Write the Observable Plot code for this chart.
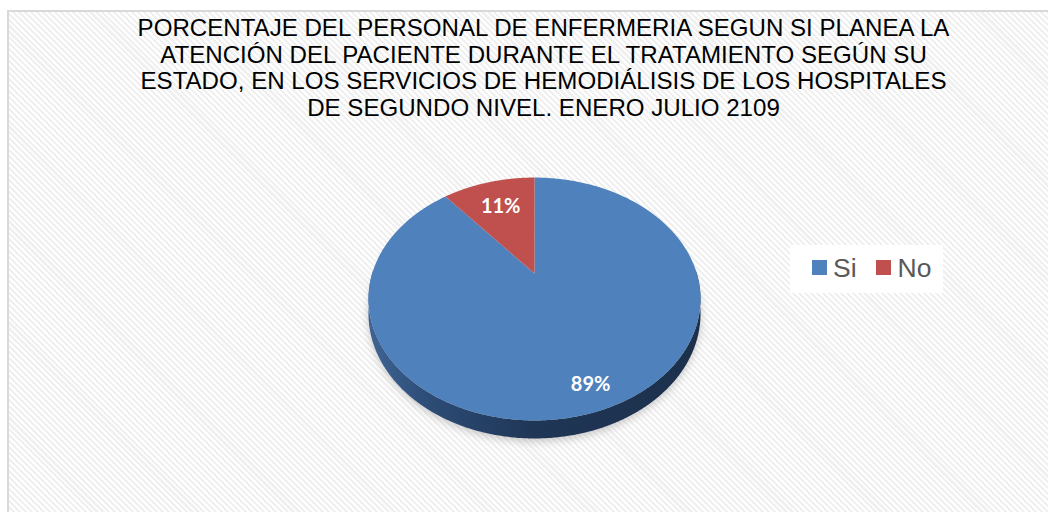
<!DOCTYPE html>
<html>
<head>
<meta charset="utf-8">
<script src="https://cdn.jsdelivr.net/npm/d3@7"></script>
<script src="https://cdn.jsdelivr.net/npm/@observablehq/plot@0.6"></script>
<style>
  html, body { margin: 0; padding: 0; background: #ffffff; }
  #wrap { position: relative; width: 1048px; height: 512px; overflow: hidden; background: #ffffff; }
  #frame {
    position: absolute; left: 7px; top: 10px; width: 1100px; height: 600px;
    border-left: 2px solid #d9d9d9; border-top: 2px solid #d9d9d9;
    background: repeating-linear-gradient(45deg, #ffffff 0px, #ffffff 2px, #f0f0f0 2px, #f0f0f0 4.2px);
  }
  #title {
    position: absolute; left: 0; width: 1087px; top: 15px;
    font-family: "Liberation Sans", Arial, sans-serif; font-size: 24.1px; line-height: 26.7px;
    color: #000000; text-align: center; white-space: nowrap;
  }
  #chart { position: absolute; left: 0; top: 0; }
  #legend {
    position: absolute; left: 790px; top: 245px; width: 153px; height: 48px; background: #ffffff;
    font-family: "Liberation Sans", Arial, sans-serif; font-size: 26.5px; color: #595959;
  }
  .sw { position: absolute; top: 15px; width: 15px; height: 15px; }
  .lt { position: absolute; top: 9px; line-height: 28px; }
</style>
</head>
<body>
<div id="wrap">
  <div id="frame"></div>
  <div id="chart"></div>
  <div id="title"></div>
  <div id="legend"></div>
</div>
<script>
// ---- data ----
const titleLines = [
  "PORCENTAJE DEL PERSONAL DE ENFERMERIA SEGUN SI PLANEA LA",
  "ATENCIÓN DEL PACIENTE DURANTE EL TRATAMIENTO SEGÚN SU",
  "ESTADO, EN LOS SERVICIOS DE HEMODIÁLISIS DE LOS HOSPITALES",
  "DE SEGUNDO NIVEL. ENERO JULIO 2109"
];
const categories = ["Si", "No"];
const values = [89, 11];
const valueLabels = ["89%", "11%"];
const colors = ["#4f81bd", "#c0504d"];

// ---- geometry helpers (perspective projection of a unit circle) ----
const k = 0.21;        // perspective strength
const depth = 0.1225;  // pie thickness
function proj(thetaDeg, r, drop) {
  const t = thetaDeg * Math.PI / 180;
  const u = r * Math.sin(t), v = r * Math.cos(t);
  const s = 1 / (1 + k * v);
  return {x: u * s, y: v * s - drop * s};
}

const total = d3.sum(values);
let acc = 0;
const slices = categories.map((c, i) => {
  const a0 = acc / total * 360;
  acc += values[i];
  const a1 = acc / total * 360;
  return {category: c, a0, a1, color: colors[i], label: valueLabels[i]};
});

function slicePoly(s) {
  const pts = [{x: 0, y: 0}];
  for (let a = s.a0; a < s.a1; a += 0.5) pts.push(proj(a, 1, 0));
  pts.push(proj(s.a1, 1, 0));
  pts.push({x: 0, y: 0});
  return pts;
}
function sidePoly() {
  const pts = [];
  for (let a = 88; a <= 272; a += 0.5) pts.push(proj(a, 1, 0));
  for (let a = 272; a >= 88; a -= 0.5) pts.push(proj(a, 1, depth));
  return pts;
}
function shadowPoly() {
  const pts = [];
  for (let a = 60; a <= 300; a += 1) pts.push(proj(a, 1.0, depth + 0.02));
  for (let a = 300; a >= 60; a -= 1) pts.push(proj(a, 0.9, depth - 0.1));
  return pts;
}

const defs = () => {
  const d = d3.create("svg:defs");
  const g = d.append("linearGradient").attr("id", "sideGrad").attr("x1", "0").attr("x2", "1").attr("y1", "0").attr("y2", "0");
  g.append("stop").attr("offset", "0%").attr("stop-color", "#3f6494");
  g.append("stop").attr("offset", "20%").attr("stop-color", "#2b4a74");
  g.append("stop").attr("offset", "50%").attr("stop-color", "#1f3656");
  g.append("stop").attr("offset", "100%").attr("stop-color", "#1c304b");
  const f = d.append("filter").attr("id", "blurShadow").attr("x", "-20%").attr("y", "-20%").attr("width", "140%").attr("height", "140%");
  f.append("feGaussianBlur").attr("stdDeviation", "4");
  return d.node();
};

const labelRadius = [0.85, 0.70];
const labelData = slices.map((s, i) => {
  const mid = (s.a0 + s.a1) / 2;
  const p = proj(mid, labelRadius[i], 0);
  return {x: p.x, y: p.y, label: s.label};
});

const W = 1048, H = 512;
const cx = 534, cy = 273, sx = 162.3, sy = 116.1;

const plot = Plot.plot({
  width: W, height: H,
  margin: 0,
  style: {background: "transparent", overflow: "visible"},
  x: {domain: [-cx / sx, (W - cx) / sx], axis: null},
  y: {domain: [(cy - H) / sy, cy / sy], axis: null},
  marks: [
    defs,
    Plot.line(shadowPoly(), {x: "x", y: "y", fill: "#9a9a9a", stroke: null, fillOpacity: 0.55}),
    Plot.line(sidePoly(), {x: "x", y: "y", fill: "url(#sideGrad)", stroke: null}),
    ...slices.map(s => Plot.line(slicePoly(s), {x: "x", y: "y", fill: s.color, stroke: null})),
    Plot.text(labelData, {x: "x", y: "y", text: "label", fill: "white", fontSize: 20, fontWeight: "bold", fontFamily: "Lato, 'Open Sans', sans-serif"})
  ]
});
document.getElementById("chart").appendChild(plot);
// blur the shadow mark
d3.select(plot).selectAll("g[aria-label='line']").filter((d, i) => i === 0).attr("filter", "url(#blurShadow)");

document.getElementById("title").innerHTML = titleLines.join("<br>");

const legend = document.getElementById("legend");
const legendX = [{sw: 21.5, tx: 43}, {sw: 86, tx: 107.5}];
categories.forEach((c, i) => {
  const sw = document.createElement("div");
  sw.className = "sw"; sw.style.left = legendX[i].sw + "px"; sw.style.background = colors[i];
  legend.appendChild(sw);
  const t = document.createElement("div");
  t.className = "lt"; t.style.left = legendX[i].tx + "px"; t.textContent = c;
  legend.appendChild(t);
});
</script>
</body>
</html>
